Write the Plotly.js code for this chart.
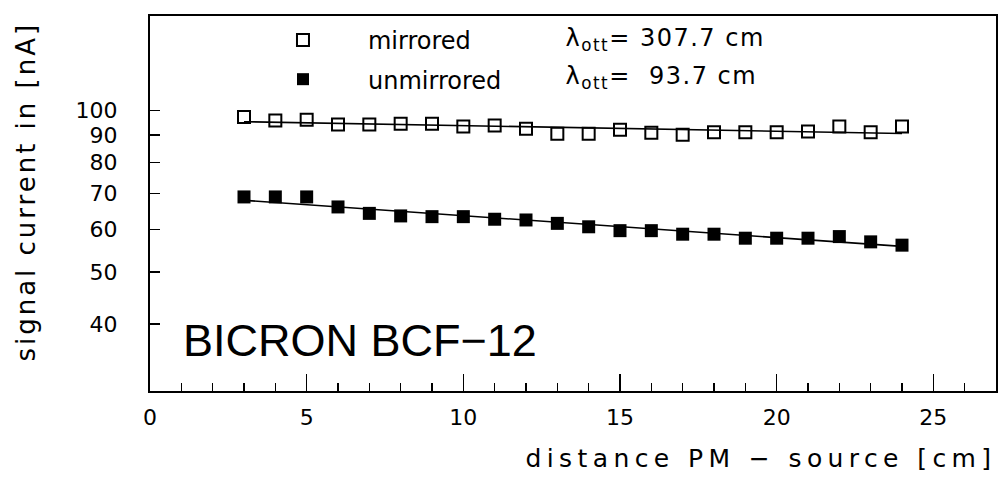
<!DOCTYPE html>
<html>
<head>
<meta charset="utf-8">
<script src="https://cdn.plot.ly/plotly-3.0.1.min.js"></script>
<style>
  html, body { margin: 0; padding: 0; background: #fff; }
  #plot { width: 1001px; height: 477px; }
  #plot .annotation[data-index="0"] text { letter-spacing: 5.4px; }
  #plot .annotation[data-index="1"] text { letter-spacing: 3px; }
  #plot .annotation[data-index="3"] text,
  #plot .annotation[data-index="4"] text { letter-spacing: 1.5px; }
</style>
</head>
<body>
<div id="plot"></div>
<script>
// distance PM - source [cm]
const distance = [3, 4, 5, 6, 7, 8, 9, 10, 11, 12, 13, 14, 15, 16, 17, 18, 19, 20, 21, 22, 23, 24];
// signal current [nA]
const mirrored = [97.2, 95.8, 96.1, 94.2, 94.2, 94.5, 94.5, 93.4, 93.8, 92.5, 90.5, 90.5, 92.1, 90.9, 90.1, 91.1, 91.1, 91.1, 91.4, 93.4, 91.1, 93.4];
const unmirrored = [69.0, 69.0, 69.0, 66.1, 64.3, 63.6, 63.4, 63.4, 62.7, 62.5, 61.6, 60.7, 59.7, 59.7, 58.8, 58.8, 57.8, 57.8, 57.8, 58.2, 56.9, 56.1];
// exponential fits (straight on log scale), end points
const fitX = [3, 24];
const fitMirrored = [95.3, 90.6];
const fitUnmirrored = [68.0, 55.8];
// axis ticks
const yTicks = [40, 50, 60, 70, 80, 90, 100];
const yTickText = ['40', '50', '60', '70', '80', '90', '100'];
const xTicks = [0, 5, 10, 15, 20, 25];

const traces = [
  { x: distance, y: mirrored, mode: 'markers', type: 'scatter', name: 'mirrored',
    legendgroup: 'a',
    marker: { symbol: 'square-open', size: 12, color: '#000', line: { width: 2, color: '#000' } } },
  { x: distance, y: unmirrored, mode: 'markers', type: 'scatter', name: 'unmirrored',
    legendgroup: 'b',
    marker: { symbol: 'square', size: 13, color: '#000' } },
  { x: fitX, y: fitMirrored, mode: 'lines', type: 'scatter', showlegend: false,
    line: { color: '#000', width: 1.6 } },
  { x: fitX, y: fitUnmirrored, mode: 'lines', type: 'scatter', showlegend: false,
    line: { color: '#000', width: 1.6 } }
];

const yr = [Math.log10(30), Math.log10(150)];
const layout = {
  width: 1001, height: 477,
  margin: { l: 150, r: 5, t: 16, b: 86 },
  paper_bgcolor: '#fff', plot_bgcolor: '#fff',
  font: { family: 'DejaVu Sans', color: '#000', size: 22 },
  showlegend: true,
  legend: {
    x: 0.104, y: 0.995, xanchor: 'left', yanchor: 'top',
    bgcolor: 'rgba(0,0,0,0)', borderwidth: 0,
    font: { family: 'DejaVu Sans', size: 24, color: '#000' },
    itemsizing: 'constant', itemwidth: 120,
    traceorder: 'grouped', tracegroupgap: 5
  },
  xaxis: {
    range: [0, 27], showgrid: false, zeroline: false,
    showline: true, mirror: true, linecolor: '#000', linewidth: 2,
    tickmode: 'array', tickvals: xTicks,
    ticks: 'inside', ticklen: 17, tickwidth: 1.5, tickcolor: '#000',
    ticklabelstandoff: 6,
    tickfont: { family: 'DejaVu Sans', size: 22 },
    minor: { dtick: 1, ticks: 'inside', ticklen: 8, tickwidth: 1.5, tickcolor: '#000', showgrid: false }
  },
  yaxis: {
    type: 'log', range: yr, showgrid: false, zeroline: false,
    showline: true, mirror: true, linecolor: '#000', linewidth: 2,
    tickmode: 'array', tickvals: yTicks, ticktext: yTickText,
    ticks: 'inside', ticklen: 10, tickwidth: 1.5, tickcolor: '#000',
    ticklabelstandoff: 26,
    tickfont: { family: 'DejaVu Sans', size: 22 }
  },
  yaxis2: {
    type: 'log', range: yr, overlaying: 'y', side: 'left',
    showgrid: false, zeroline: false, showline: false,
    tickmode: 'array', tickvals: [100], showticklabels: false,
    ticks: 'inside', ticklen: 18, tickwidth: 1.5, tickcolor: '#000'
  },
  annotations: [
    { text: 'distance PM \u2212 source [cm]', xref: 'paper', yref: 'paper',
      x: 0.722, y: -0.179, xanchor: 'center', yanchor: 'middle', showarrow: false,
      font: { family: 'DejaVu Sans', size: 25, color: '#000' } },
    { text: 'signal current in [nA]', xref: 'paper', yref: 'paper',
      x: -0.146, y: 0.533, xanchor: 'center', yanchor: 'middle', textangle: -90, showarrow: false,
      font: { family: 'DejaVu Sans', size: 26, color: '#000' } },
    { text: 'BICRON BCF\u221212', xref: 'paper', yref: 'paper',
      x: 0.037, y: 0.136, xanchor: 'left', yanchor: 'middle', showarrow: false,
      font: { family: 'Liberation Sans', size: 45, color: '#000' } },
    { text: '\u03bb<sub>ott</sub>= 307.7 cm', xref: 'paper', yref: 'paper',
      x: 0.501, y: 0.936, xanchor: 'left', yanchor: 'middle', showarrow: false,
      font: { family: 'DejaVu Sans', size: 24, color: '#000' } },
    { text: '\u03bb<sub>ott</sub>=  93.7 cm', xref: 'paper', yref: 'paper',
      x: 0.501, y: 0.836, xanchor: 'left', yanchor: 'middle', showarrow: false,
      font: { family: 'DejaVu Sans', size: 24, color: '#000' } }
  ]
};

Plotly.newPlot('plot', traces, layout, { staticPlot: true, displayModeBar: false });
</script>
</body>
</html>
